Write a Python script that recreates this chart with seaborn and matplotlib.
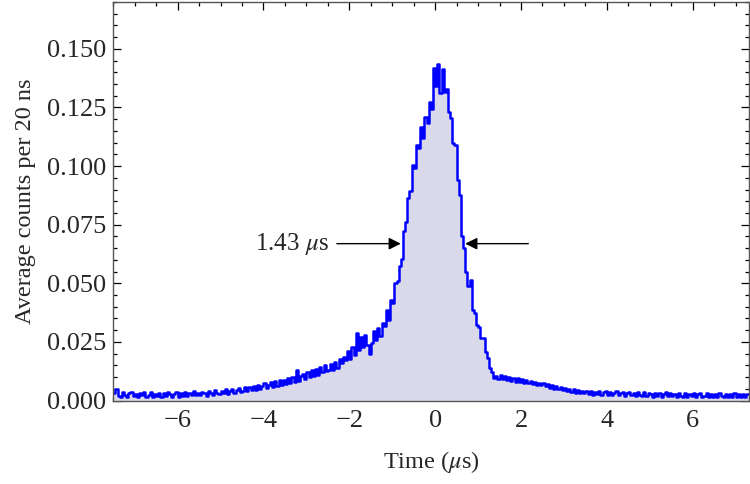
import numpy as np
import pandas as pd
import matplotlib
matplotlib.use("Agg")
import matplotlib.pyplot as plt
from matplotlib.ticker import MultipleLocator, FormatStrFormatter
import seaborn as sns

sns.set_style("white")
plt.rcParams['font.family'] = ['Liberation Serif', 'DejaVu Serif']
plt.rcParams['mathtext.fontset'] = 'stix'

# Histogram: 0.05 us bins from -7.5 us to 7.3 us; counts in units of 1e-3 per 20 ns
bin_start = -7.5
bin_width = 0.05
counts_milli = [
    3.0, 4.8, 2.0, 1.4, 3.6, 2.2, 1.5, 3.0, 3.8, 1.8, 2.9, 1.3, 3.2, 2.2, 3.6, 1.7, 2.5, 3.5, 1.6, 2.8,
    2.0, 3.1, 1.4, 3.3, 2.1, 3.8, 2.6, 1.6, 2.8, 3.5, 1.5, 3.0, 2.0, 3.6, 1.9, 3.2, 2.4, 4.0, 2.2, 3.3,
    2.4, 3.7, 3.0, 2.0, 4.1, 3.1, 2.4, 4.5, 3.0, 2.6, 4.2, 3.1, 4.8, 2.9, 4.2, 5.0, 3.3, 4.5, 5.2, 3.6,
    4.0, 5.6, 4.0, 5.9, 4.3, 6.3, 4.6, 6.8, 5.0, 6.0, 7.4, 5.3, 6.6, 7.9, 5.8, 8.2, 6.4, 8.6, 6.8, 8.9,
    7.0, 9.4, 7.6, 10.2, 7.8, 12.8, 8.5, 10.6, 11.4, 9.0, 12.2, 9.9, 13.1, 10.4, 13.6, 11.0, 14.2, 12.0, 15.0, 12.6,
    13.0, 15.6, 13.2, 16.5, 14.0, 17.8, 16.0, 18.6, 17.2, 21.0, 17.6, 23.0, 19.5, 29.0, 21.5, 27.0, 22.8, 27.8, 23.5, 19.8,
    24.5, 29.5, 26.0, 30.8, 27.5, 33.0, 31.8, 38.5, 34.5, 43.0, 41.5, 50.0, 51.0, 57.5, 60.5, 72.5, 76.0, 86.5, 89.5, 100.5,
    99.0, 109.0, 107.5, 116.5, 112.0, 121.0, 118.5, 127.5, 124.5, 142.0, 134.0, 143.5, 131.0, 141.5, 131.5, 133.0, 123.0, 120.5, 110.0, 109.0,
    94.0, 87.5, 70.0, 65.0, 55.0, 49.0, 51.5, 38.5, 37.5, 32.0, 31.5, 26.8, 26.5, 20.8, 18.0, 14.0, 12.3, 9.8, 10.6, 9.2,
    10.8, 9.0, 10.4, 8.6, 9.9, 8.3, 9.6, 8.1, 9.4, 7.9, 9.0, 7.6, 8.6, 7.3, 8.3, 7.0, 8.0, 6.8, 7.6, 6.6,
    7.4, 6.0, 6.9, 5.4, 6.8, 5.0, 6.3, 4.7, 5.9, 4.3, 5.5, 3.9, 5.1, 3.7, 4.8, 3.4, 4.5, 3.2, 4.2, 3.0,
    4.1, 2.8, 3.9, 2.5, 3.7, 2.7, 3.9, 2.3, 3.5, 4.0, 2.4, 3.6, 2.2, 3.4, 4.0, 2.3, 3.2, 3.8, 2.1, 3.1,
    3.6, 2.2, 3.3, 1.9, 3.7, 2.3, 2.0, 3.5, 1.8, 3.2, 2.9, 1.7, 3.4, 2.0, 3.1, 1.6, 2.8, 3.5, 1.9, 3.0,
    1.8, 2.9, 1.5, 3.2, 2.0, 1.7, 3.0, 1.4, 2.8, 1.8, 3.3, 1.6, 2.6, 3.0, 1.5, 1.9, 3.1, 1.7, 2.8, 1.6,
    2.7, 1.5, 3.0, 1.8, 1.6, 2.9, 1.4, 2.7, 1.7, 3.1, 1.6, 2.6, 1.5, 2.9, 1.7, 2.8,
]
fwhm_label = "1.43 $\\mu$s"
fwhm_left, fwhm_right, fwhm_level = -0.80, 0.70, 0.0669
x_ticks = [-6, -4, -2, 0, 2, 4, 6]
y_ticks = [0.000, 0.025, 0.050, 0.075, 0.100, 0.125, 0.150]

counts = np.array(counts_milli) / 1000.0
n = len(counts)
edges = bin_start + bin_width * np.arange(n + 1)
# step outline from bin edges
xs = np.repeat(edges, 2)[1:-1]
ys = np.repeat(counts, 2)

fig = plt.figure(figsize=(7.5, 4.84), dpi=100)
ax = fig.add_axes([0.151, 0.1725, 0.847, 0.8235])

ax.fill_between(xs, 0, ys, color="#d9d9ea", lw=0, zorder=1)
sns.lineplot(x=xs, y=ys, estimator=None, sort=False,
             color="#0000ff", lw=1.8, ax=ax, zorder=2)

ax.set_xlim(-7.5, 7.3)
ax.set_ylim(0, 0.17)
ax.set_xticks(x_ticks)
ax.set_xticklabels([("\u2212%d" % -v) if v < 0 else str(v) for v in x_ticks])
ax.set_yticks(y_ticks)
ax.yaxis.set_major_formatter(FormatStrFormatter("%.3f"))
ax.xaxis.set_minor_locator(MultipleLocator(0.5))
ax.yaxis.set_minor_locator(MultipleLocator(0.005))
ax.tick_params(which="both", direction="in", top=True, right=True, bottom=True, left=True,
               color="black", width=0.9, labelsize=19)
ax.tick_params(which="major", length=6)
ax.tick_params(which="minor", length=3)
ax.tick_params(axis="x", which="major", pad=7)
ax.tick_params(axis="y", which="major", pad=5)
ax.tick_params(labeltop=False, labelright=False)
for s in ax.spines.values():
    s.set_color("#555555")
    s.set_linewidth(1.0)
    s.set_visible(True)

ax.set_xlabel("Time ($\\mu$s)", fontsize=17.5, labelpad=12)
ax.set_ylabel("Average counts per 20 ns", fontsize=17.5, labelpad=8)

arrow_kw = dict(arrowstyle="-|>", color="black", lw=1.0, mutation_scale=18, shrinkA=0, shrinkB=0)
ax.annotate("", xy=(fwhm_left, fwhm_level), xytext=(fwhm_left - 1.49, fwhm_level), arrowprops=arrow_kw)
ax.annotate("", xy=(fwhm_right, fwhm_level), xytext=(fwhm_right + 1.47, fwhm_level), arrowprops=arrow_kw)
ax.text(fwhm_left - 1.67, fwhm_level, fwhm_label, ha="right", va="center", fontsize=18)

fig.savefig("out.png", dpi=100)
